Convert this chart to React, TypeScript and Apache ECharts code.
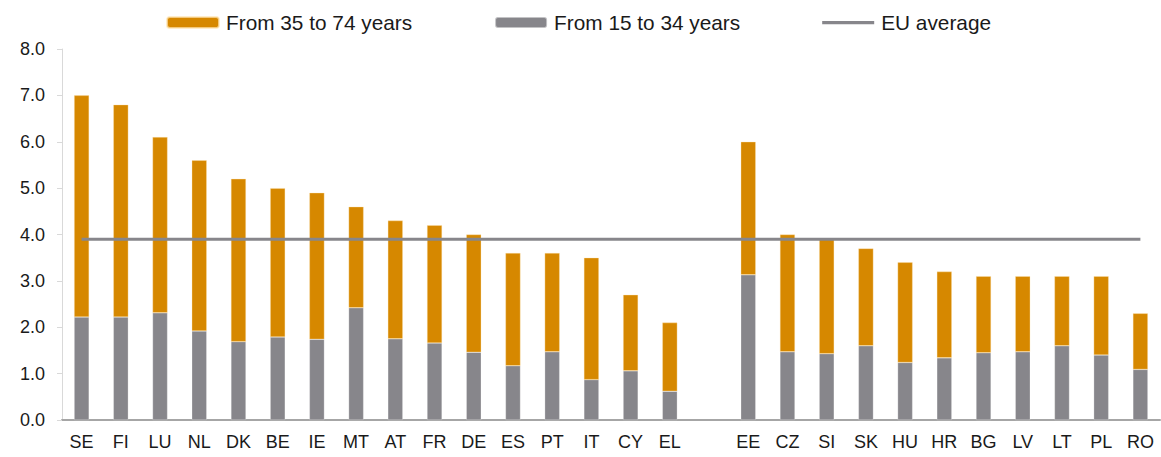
import React, { useEffect, useRef } from "react";
import * as echarts from "echarts";

const categories = [
  "SE", "FI", "LU", "NL", "DK", "BE", "IE", "MT", "AT", "FR", "DE", "ES", "PT", "IT", "CY", "EL",
  "",
  "EE", "CZ", "SI", "SK", "HU", "HR", "BG", "LV", "LT", "PL", "RO",
];

// Total (both age groups)
const totals = [
  7.0, 6.8, 6.1, 5.6, 5.2, 5.0, 4.9, 4.6, 4.3, 4.2, 4.0, 3.6, 3.6, 3.5, 2.7, 2.1,
  null,
  6.0, 4.0, 3.9, 3.7, 3.4, 3.2, 3.1, 3.1, 3.1, 3.1, 2.3,
];

// From 15 to 34 years
const young = [
  2.22, 2.22, 2.31, 1.92, 1.69, 1.79, 1.74, 2.42, 1.75, 1.66, 1.46, 1.17, 1.47, 0.87, 1.06, 0.62,
  null,
  3.13, 1.47, 1.43, 1.6, 1.24, 1.34, 1.45, 1.47, 1.6, 1.4, 1.09,
];

// From 35 to 74 years = total - young
const older = totals.map((t, i) =>
  t === null || young[i] === null ? null : Math.round((t - (young[i] as number)) * 100) / 100
);

const euAverageValue = 3.9;
const euAverage = categories.map(() => euAverageValue);

const yTicks = { min: 0, max: 8, interval: 1 };

const ORANGE = "#d68800";
const GREY = "#87868b";
const FONT = "'Liberation Sans', Arial, sans-serif";

// thin line legend icon (degenerate sub-paths keep the box 11 high)
const LINE_ICON =
  "path://M0,0L0.001,0L0,0.001Z M0,4L52,4L52,7.2L0,7.2Z M0,11L0.001,11L0,10.999Z";

export default function App() {
  const ref = useRef<HTMLDivElement>(null);

  useEffect(() => {
    if (!ref.current) return;
    const chart = echarts.init(ref.current, null, { renderer: "svg" });
    chart.setOption({
      animation: false,
      textStyle: { fontFamily: FONT, color: "#1a1a1a" },
      legend: {
        left: 161,
        top: 7,
        itemWidth: 52,
        itemHeight: 11,
        itemGap: 82,
        data: [
          { name: "From 35 to 74 years" },
          { name: "From 15 to 34 years" },
          { name: "EU average", icon: LINE_ICON, itemStyle: { color: GREY } },
        ],
        textStyle: { fontFamily: FONT, fontSize: 20.8, color: "#1a1a1a", padding: [0, 0, 0, 2] },
      },
      grid: { left: 62, right: 1, top: 49, bottom: 37, containLabel: false },
      xAxis: {
        type: "category",
        data: categories,
        axisLine: { lineStyle: { color: "#a6a6a6", width: 2 } },
        axisTick: { show: false },
        axisLabel: { fontFamily: FONT, fontSize: 18, color: "#1a1a1a", margin: 13, interval: 0 },
      },
      yAxis: {
        type: "value",
        min: yTicks.min,
        max: yTicks.max,
        interval: yTicks.interval,
        axisLine: { show: true, lineStyle: { color: "#d9d9d9", width: 1 } },
        axisTick: { show: true, length: 5, lineStyle: { color: "#d9d9d9" } },
        splitLine: { show: false },
        axisLabel: {
          fontFamily: FONT,
          fontSize: 18,
          color: "#1a1a1a",
          margin: 17,
          formatter: (v: number) => v.toFixed(1),
        },
      },
      series: [
        {
          name: "From 15 to 34 years",
          type: "bar",
          stack: "total",
          barWidth: 15,
          data: young,
          itemStyle: { color: GREY, borderColor: "rgba(255,255,255,0.5)", borderWidth: 0.5 },
        },
        {
          name: "From 35 to 74 years",
          type: "bar",
          stack: "total",
          barWidth: 15,
          data: older,
          itemStyle: { color: ORANGE, borderColor: "rgba(255,230,180,0.7)", borderWidth: 0.5 },
        },
        {
          name: "EU average",
          type: "line",
          data: euAverage,
          symbol: "none",
          lineStyle: { color: GREY, width: 3 },
          itemStyle: { color: GREY },
          z: 5,
        },
      ],
    });
    return () => chart.dispose();
  }, []);

  return (
    <div
      ref={ref}
      style={{ position: "fixed", left: 0, top: 0, width: 1161, height: 457, background: "#fff" }}
    />
  );
}
